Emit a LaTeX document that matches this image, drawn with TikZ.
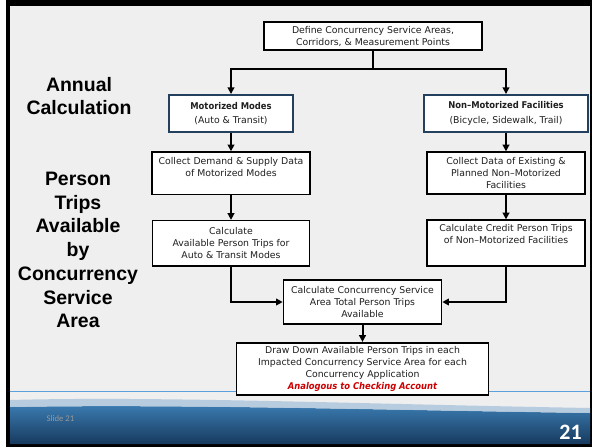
\documentclass[tikz,border=0pt]{standalone}
\usepackage{fontspec}
\setmainfont{DejaVu Sans}
\newfontfamily\sidefont{Liberation Sans}
\newfontfamily\headfont{DejaVu Sans Condensed}
\newfontfamily\numfont{Carlito}
\usetikzlibrary{arrows.meta}

\definecolor{slidegray}{HTML}{EFEFEF}
\definecolor{framenavy}{HTML}{23415F}
\definecolor{rulecyan}{HTML}{5AA0DC}
\definecolor{wavetop}{HTML}{3B7CB2}
\definecolor{wavebottom}{HTML}{173A5E}
\definecolor{wavelight}{HTML}{A9C4DC}
\definecolor{alertred}{HTML}{CC0000}

\begin{document}
\begin{tikzpicture}[x=0.75pt, y=-0.75pt,
    stepbox/.style={draw=black, line width=1.2pt, fill=white, inner sep=0pt, align=center,
      font=\fontsize{7}{9}\selectfont, text=black!88},
    modebox/.style={stepbox, draw=framenavy, line width=1.5pt},
    sidelabel/.style={align=center, font=\sidefont\bfseries\fontsize{14.6}{17.8}\selectfont},
    tip/.style={-{Triangle[length=5pt,width=5pt]}},
    conn/.style={line width=1.5pt, tip},
    bigconn/.style={line width=2.2pt}]
  \useasboundingbox (0,0) rectangle (592,447);

  % slide frame and footer
  \fill[white] (0,0) rectangle (592,447);
  \fill[black] (6,0) rectangle (592,447);
  \fill[slidegray] (10,6) rectangle (590,444);
  \draw[rulecyan, line width=0.8pt] (10,391.5) -- (590,391.5);
  \shade[top color=wavetop, bottom color=wavebottom]
    (10,407) .. controls (180,404) and (380,410) .. (590,413) -- (590,444) -- (10,444) -- cycle;
  \fill[wavelight, opacity=0.8]
    (10,400) .. controls (160,396) and (360,404) .. (590,408)
    -- (590,413) .. controls (380,410) and (180,404) .. (10,407) -- cycle;
  \node[anchor=west, text=gray!80, font=\numfont\fontsize{6.5}{8}\selectfont] (slidetag) at (42,419) {Slide 21};
  \node[text=white, font=\numfont\bfseries\fontsize{16.5}{18}\selectfont] (pagenum) at (570.5,432) {21};

  % side labels
  \node[sidelabel] (annual) at (79,96) {Annual\\Calculation};
  \node[sidelabel] (trips) at (78,250) {Person\\Trips\\Available\\by\\Concurrency\\Service\\Area};

  % boxes
  \node[stepbox, minimum width=163.5pt, minimum height=21.2pt] (define) at (373,36)
    {Define Concurrency Service Areas,\\Corridors, \& Measurement Points};
  \node[modebox, minimum width=92.5pt, minimum height=28pt] (motor) at (231,113.7)
    {{\headfont\bfseries Motorized Modes}\\[2pt](Auto \& Transit)};
  \node[modebox, minimum width=122.5pt, minimum height=28pt] (nonmotor) at (506,113.7)
    {{\headfont\bfseries Non–Motorized Facilities}\\[2pt](Bicycle, Sidewalk, Trail)};
  \node[stepbox, minimum width=118.2pt, minimum height=31.7pt] (collectM) at (231,173.2)
    {Collect Demand \& Supply Data\\of Motorized Modes\\\mbox{}};
  \node[stepbox, minimum width=118.7pt, minimum height=31.3pt] (collectN) at (506,173)
    {Collect Data of Existing \&\\Planned Non–Motorized\\Facilities};
  \node[stepbox, minimum width=117.8pt, minimum height=33.8pt] (calcM) at (231,243.2)
    {Calculate\\Available Person Trips for\\Auto \& Transit Modes};
  \node[stepbox, minimum width=118.5pt, minimum height=34.3pt] (calcN) at (506,243)
    {Calculate Credit Person Trips\\of Non–Motorized Facilities\\[5pt]\mbox{}};
  \node[stepbox, minimum width=118.5pt, minimum height=33pt] (total) at (362.5,302)
    {Calculate Concurrency Service\\Area Total Person Trips\\Available};
  \node[stepbox, minimum width=189pt, minimum height=39pt] (drawdown) at (362.5,368.7)
    {Draw Down Available Person Trips in each\\Impacted Concurrency Service Area for each\\Concurrency Application\\
     {\headfont\bfseries\itshape\color{alertred}Analogous to Checking Account}};

  % connectors
  \draw[bigconn] (define.south) -- (373,69) coordinate (split);
  \draw[bigconn, tip] (split) -| (motor.north);
  \draw[bigconn, tip] (split) -| (nonmotor.north);
  \draw[conn] (motor) -- (collectM);
  \draw[conn] (collectM) -- (calcM);
  \draw[conn] (nonmotor) -- (collectN);
  \draw[conn] (collectN) -- (calcN);
  \draw[bigconn, tip] (calcM.south) |- (total.west);
  \draw[bigconn, tip] (calcN.south) |- (total.east);
  \draw[conn] (total) -- (drawdown);
\end{tikzpicture}
\end{document}
